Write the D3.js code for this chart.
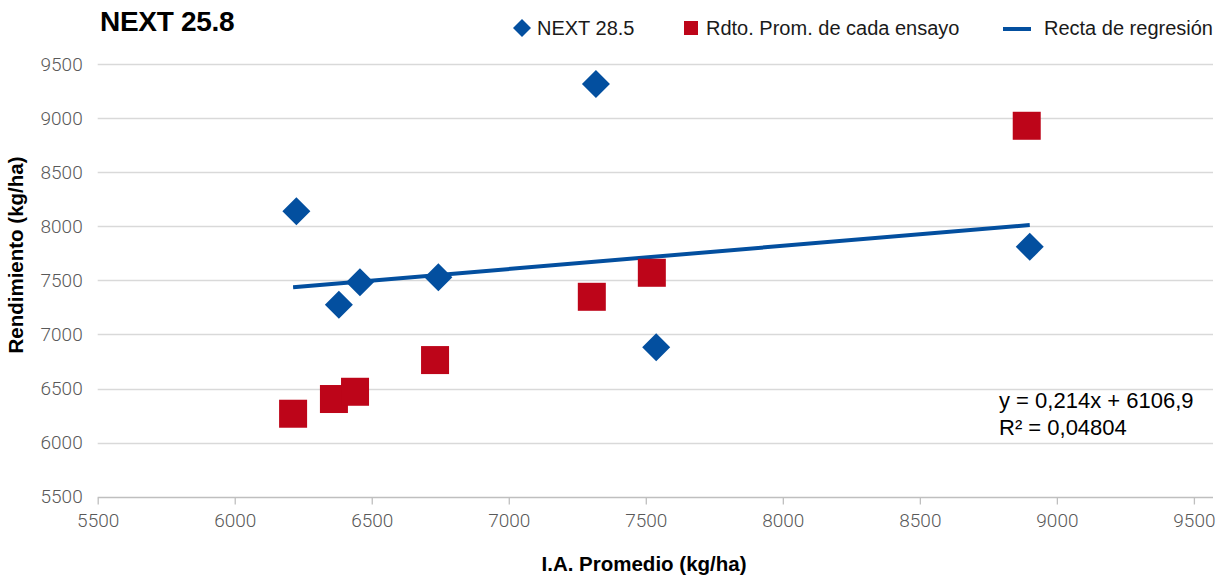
<!DOCTYPE html>
<html>
<head>
<meta charset="utf-8">
<script src="https://cdn.jsdelivr.net/npm/d3@7/dist/d3.min.js"></script>
<style>
  html, body { margin: 0; padding: 0; background: #fff; }
  svg { display: block; }
</style>
</head>
<body>
<svg id="chart" width="1229" height="577"></svg>
<script>
// ---- data ----
const title = "NEXT 25.8";
const seriesNames = ["NEXT 28.5", "Rdto. Prom. de cada ensayo", "Recta de regresión"];
const iaNext = [6225, 6380, 6457, 6743, 7318, 7538, 8901];        // I.A. Promedio (x) of NEXT 28.5 points
const next285 = [8138, 7275, 7482, 7528, 9314, 6881, 7810];        // Rendimiento NEXT 28.5
const iaEnsayo = [6213, 6362, 6439, 6731, 7303, 7522, 8890];       // I.A. Promedio (x) of trial averages
const rdtoProm = [6267, 6403, 6470, 6763, 7348, 7570, 8929];       // Rdto. Prom. de cada ensayo
const regSlope = 0.214;
const regIntercept = 6106.9;
const equationLines = ["y = 0,214x + 6106,9", "R² = 0,04804"];
const xTicks = [5500, 6000, 6500, 7000, 7500, 8000, 8500, 9000, 9500];
const yTicks = [5500, 6000, 6500, 7000, 7500, 8000, 8500, 9000, 9500];
const xTitle = "I.A. Promedio (kg/ha)";
const yTitle = "Rendimiento (kg/ha)";

const blue = "#034f9f";
const red = "#bd0519";

const svg = d3.select("#chart");

const x = d3.scaleLinear().domain([5500, 9500]).range([97.7, 1193.9]);
const y = d3.scaleLinear().domain([5500, 9500]).range([496.7, 64]);
const plotRight = 1213;

// gridlines
svg.append("g")
  .selectAll("line")
  .data(yTicks.slice(1))
  .join("line")
  .attr("x1", x(5500)).attr("x2", plotRight)
  .attr("y1", d => Math.round(y(d)) + 0.5).attr("y2", d => Math.round(y(d)) + 0.5)
  .attr("stroke", "#d9d9d9").attr("stroke-width", 1.3);

// x axis
const xAxis = d3.axisBottom(x).tickValues(xTicks).tickSize(7).tickPadding(9).tickFormat(d3.format("d"));
const gx = svg.append("g").attr("transform", `translate(0,${Math.round(y(5500)) + 0.5})`).call(xAxis);
gx.select(".domain").attr("d", `M${x(5500)},0H${plotRight}`).attr("stroke", "#bfbfbf").attr("stroke-width", 1.3);
gx.selectAll(".tick line").attr("stroke", "#bfbfbf").attr("stroke-width", 1.3);
gx.selectAll(".tick text")
  .attr("font-family", "Roboto, 'Liberation Sans', sans-serif")
  .attr("font-weight", 300)
  .attr("font-size", 19)
  .attr("fill", "#595959");

// y axis labels
const yAxis = d3.axisLeft(y).tickValues(yTicks).tickSize(0).tickPadding(15).tickFormat(d3.format("d"));
const gy = svg.append("g").attr("transform", `translate(${x(5500)},0)`).call(yAxis);
gy.select(".domain").remove();
gy.selectAll(".tick text")
  .attr("font-family", "Roboto, 'Liberation Sans', sans-serif")
  .attr("font-weight", 300)
  .attr("font-size", 19)
  .attr("fill", "#595959");

// regression line
const xMin = d3.min(iaEnsayo), xMax = d3.max(iaNext);
const regPts = [xMin, xMax].map(v => [v, regSlope * v + regIntercept]);
svg.append("path")
  .datum(regPts)
  .attr("d", d3.line().x(d => x(d[0])).y(d => y(d[1])))
  .attr("fill", "none").attr("stroke", blue).attr("stroke-width", 4);

// squares (trial averages)
const sq = 28;
svg.append("g")
  .selectAll("rect")
  .data(iaEnsayo.map((v, i) => [v, rdtoProm[i]]))
  .join("rect")
  .attr("x", d => x(d[0]) - sq / 2).attr("y", d => y(d[1]) - sq / 2)
  .attr("width", sq).attr("height", sq)
  .attr("fill", red);

// diamonds (NEXT 28.5)
const dh = 14;
svg.append("g")
  .selectAll("path")
  .data(iaNext.map((v, i) => [v, next285[i]]))
  .join("path")
  .attr("transform", d => `translate(${x(d[0])},${y(d[1])})`)
  .attr("d", `M0,${-dh}L${dh},0L0,${dh}L${-dh},0Z`)
  .attr("fill", blue);

// title
svg.append("text")
  .attr("x", 100).attr("y", 31)
  .attr("font-family", "'Liberation Sans', Arial, sans-serif")
  .attr("font-weight", "bold").attr("font-size", 28)
  .attr("letter-spacing", -0.3)
  .attr("fill", "#000")
  .text(title);

// legend
const lg = svg.append("g")
  .attr("font-family", "'Liberation Sans', Arial, sans-serif")
  .attr("font-size", 20).attr("fill", "#1a1a1a");
lg.append("path").attr("transform", "translate(522,28)")
  .attr("d", "M0,-9L9,0L0,9L-9,0Z").attr("fill", blue);
lg.append("text").attr("x", 537).attr("y", 35).text(seriesNames[0]);
lg.append("rect").attr("x", 684).attr("y", 21).attr("width", 14).attr("height", 14).attr("fill", red);
lg.append("text").attr("x", 706).attr("y", 35).text(seriesNames[1]);
lg.append("line").attr("x1", 1003).attr("x2", 1031).attr("y1", 29).attr("y2", 29)
  .attr("stroke", blue).attr("stroke-width", 4);
lg.append("text").attr("x", 1044).attr("y", 35).text(seriesNames[2]);

// equation
svg.append("g")
  .attr("font-family", "'Liberation Sans', Arial, sans-serif")
  .attr("font-size", 22).attr("fill", "#000")
  .selectAll("text")
  .data(equationLines)
  .join("text")
  .attr("x", 999).attr("y", (d, i) => 408 + i * 27)
  .text(d => d);

// axis titles
svg.append("text")
  .attr("x", 644).attr("y", 571)
  .attr("text-anchor", "middle")
  .attr("font-family", "'Liberation Sans', Arial, sans-serif")
  .attr("font-weight", "bold").attr("font-size", 20.5)
  .attr("fill", "#000")
  .text(xTitle);

svg.append("text")
  .attr("transform", "translate(23,255) rotate(-90)")
  .attr("text-anchor", "middle")
  .attr("font-family", "'Liberation Sans', Arial, sans-serif")
  .attr("font-weight", "bold").attr("font-size", 20.5)
  .attr("fill", "#000")
  .text(yTitle);
</script>
</body>
</html>
